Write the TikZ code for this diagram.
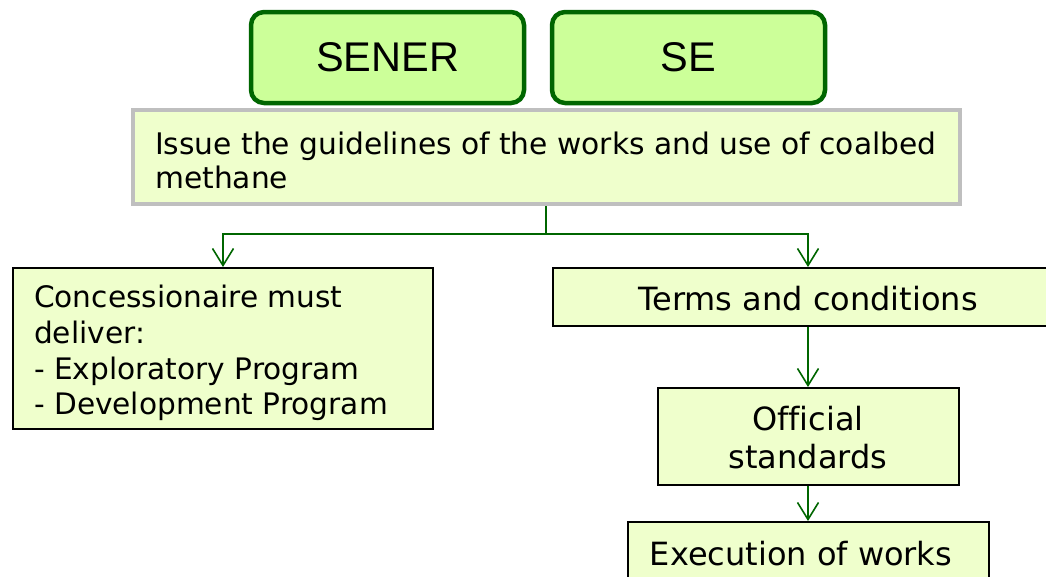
\documentclass[tikz,border=0pt]{standalone}
\usepackage{fontspec}
\setmainfont{DejaVu Sans}[Ligatures=NoCommon]
\newfontfamily\arialf{Liberation Sans}
\usetikzlibrary{arrows.meta}
\definecolor{dgreen}{HTML}{006600}
\definecolor{lgreen}{HTML}{CCFF99}
\definecolor{pale}{HTML}{EFFFCC}
\definecolor{greyb}{HTML}{BFBFBF}
\tikzset{
  head/.style={draw=dgreen, line width=4.5pt, fill=lgreen, rounded corners=13pt, minimum width=273pt, minimum height=91pt, inner sep=0pt, font=\arialf\fontsize{41.5}{48}\selectfont},
  box/.style={draw=black, line width=2pt, fill=pale, inner sep=0pt},
  txtA/.style={inner sep=0pt, anchor=base west, font=\fontsize{29.7}{35}\selectfont},
  txtL/.style={inner sep=0pt, anchor=base west, font=\fontsize{29.6}{35}\selectfont},
  txtB/.style={inner sep=0pt, anchor=base, font=\fontsize{32}{38}\selectfont},
  conn/.style={draw=dgreen, line width=1.6pt},
  arr/.style={conn, -{Straight Barb[length=17pt,width=21pt]}}
}
\begin{document}
\begin{tikzpicture}[x=1pt,y=-1pt]
\useasboundingbox (0,0) rectangle (1046,576);
\clip (0,0) rectangle (1046,576);
\fill[white] (0,0) rectangle (1046,576);
% header boxes
\node[head] (sener) at (387.5,57.5) {SENER};
\node[head] (se) at (688.5,57.5) {SE};
% boxes
\node[box, draw=greyb, line width=4pt, minimum width=827pt, minimum height=94pt] (guide) at (546,157) {};
\node[box, minimum width=420pt, minimum height=161pt] (left) at (223,348.5) {};
\node[box, minimum width=510pt, minimum height=58pt] (terms) at (808,297) {};
\node[box, minimum width=301pt, minimum height=97pt] (official) at (808,436.5) {};
\node[box, minimum width=361pt, minimum height=64pt] (exec) at (808,554) {};
% texts
\node[txtA] (g1) at (155,154) {Issue the guidelines of the works and use of coalbed};
\node[txtA] (g2) at (155,188) {methane};
\node[txtL] (l1) at (34,307) {Concessionaire must};
\node[txtL] (l2) at (34,343) {deliver:};
\node[txtL] (l3) at (34,379) {- Exploratory Program};
\node[txtL] (l4) at (34,414) {- Development Program};
\node[txtB] (t1) at (808,310) {Terms and conditions};
\node[txtB] (o1) at (808,430) {Official};
\node[txtB] (o2) at (808,468) {standards};
\node[txtB] (e1) at (801,565) {Execution of works};
% connectors
\coordinate (j) at (546,234);
\draw[conn] (guide.south) -- (j);
\draw[arr] (j) -| (left.north);
\draw[arr] (j) -| (terms.north);
\draw[arr] (terms.south) -- (official.north);
\draw[arr] (official.south) -- (exec.north);
\end{tikzpicture}
\end{document}
